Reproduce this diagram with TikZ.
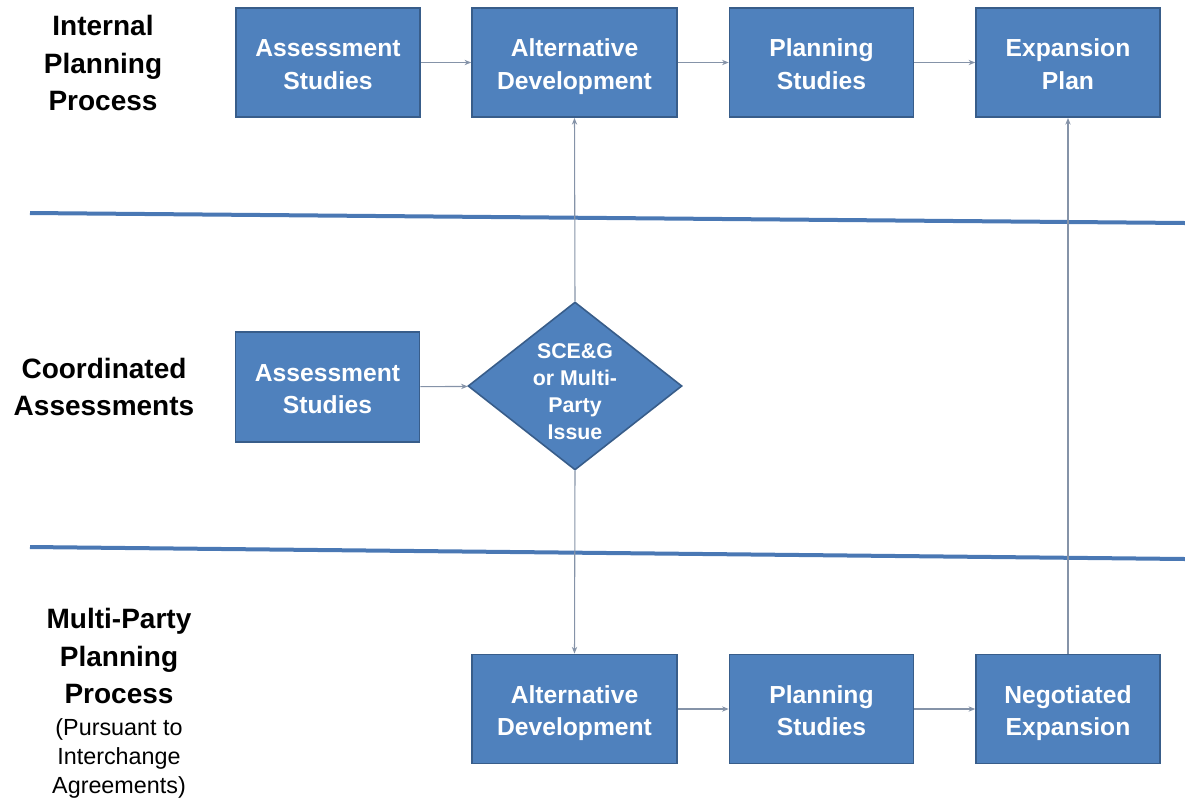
\documentclass[tikz,border=0pt]{standalone}
\usepackage{fontspec}
\setmainfont{Liberation Sans}
\usetikzlibrary{shapes.geometric,arrows.meta}
\definecolor{boxfill}{HTML}{4F81BD}
\definecolor{boxline}{HTML}{385D8A}
\definecolor{sepline}{HTML}{4A78B4}
\definecolor{conn}{HTML}{8593A8}
\newcommand{\boxtopstrut}{\rule{0pt}{19.5pt}}
\tikzset{
  procbox/.style={rectangle, draw=boxline, line width=1.2pt, fill=boxfill, text=white,
    align=center, font=\fontsize{18.5}{24.25}\selectfont\bfseries, inner sep=0pt,
    execute at end node={\rule[-4pt]{0pt}{0pt}}},
  wbox/.style={minimum width=153.75pt},
  nbox/.style={minimum width=138pt},
  hrow/.style={minimum height=82pt},
  decision/.style={diamond, draw=boxline, line width=1.2pt, fill=boxfill,
    inner sep=0pt, aspect=1.27, minimum width=160.5pt, minimum height=126pt},
  diatext/.style={align=center, text=white, font=\fontsize{16}{20.25}\selectfont\bfseries, inner sep=0pt},
  rowlabel/.style={align=center, font=\fontsize{21}{28}\selectfont\bfseries, text=black},
  notelabel/.style={align=center, font=\fontsize{17.5}{21.75}\selectfont, text=black},
  flow/.style={draw=conn, line width=0.8pt, -{Stealth[length=5pt,width=4pt]}},
  sep/.style={draw=sepline, line width=3pt},
}
\begin{document}
\begin{tikzpicture}[x=0.75pt,y=-0.75pt]
\useasboundingbox (0,0) rectangle (1185,797);
% row labels
\node[rowlabel] (lab1) at (103,63) {Internal\\Planning\\Process};
\node[rowlabel] (lab2) at (104,387) {Coordinated\\Assessments};
\node[rowlabel] (lab3) at (119,656) {Multi-Party\\Planning\\Process};
\node[notelabel] (lab3n) at (119,758) {(Pursuant to\\Interchange\\Agreements)};
% separators
\draw[sep] (30,213) -- (1185,223);
\draw[sep] (30,547) -- (1185,559);
% top row
\node[procbox,nbox,hrow] (t1) at (328,62.5) {\boxtopstrut Assessment\\Studies};
\node[procbox,wbox,hrow] (t2) at (574.5,62.5) {\boxtopstrut Alternative\\Development};
\node[procbox,nbox,hrow] (t3) at (821.5,62.5) {\boxtopstrut Planning\\Studies};
\node[procbox,nbox,hrow] (t4) at (1068,62.5) {\boxtopstrut Expansion\\Plan};
% middle row
\node[procbox,nbox,minimum height=82.5pt] (m1) at (327.5,387) {\boxtopstrut Assessment\\Studies};
\node[decision] (d1) at (575,386) {};
\node[diatext] (d1t) at ([yshift=-4.5pt]d1.center) {SCE\&G\\or Multi-\\Party\\Issue};
% bottom row
\node[procbox,wbox,hrow] (b1) at (574.5,709) {\boxtopstrut Alternative\\Development};
\node[procbox,nbox,hrow] (b2) at (821.5,709) {\boxtopstrut Planning\\Studies};
\node[procbox,nbox,hrow] (b3) at (1068,709) {\boxtopstrut Negotiated\\Expansion};
% connectors
\draw[flow] (t1) -- (t2);
\draw[flow] (t2) -- (t3);
\draw[flow] (t3) -- (t4);
\draw[flow] (m1) -- (d1);
\draw[flow] (d1.north) -- (t2.south);
\draw[flow] (d1.south) -- (b1.north);
\draw[flow] (b1) -- (b2);
\draw[flow] (b2) -- (b3);
\draw[flow] (b3.north) -- (t4.south);
\end{tikzpicture}
\end{document}
